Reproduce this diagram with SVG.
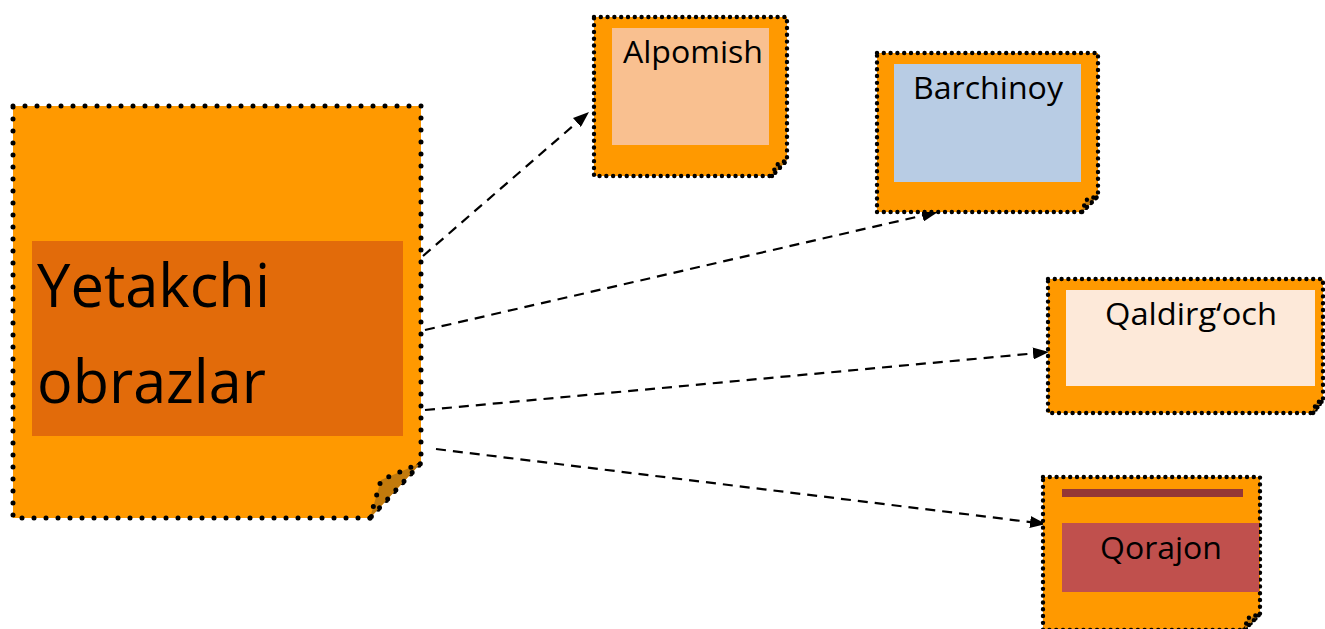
<svg xmlns="http://www.w3.org/2000/svg" width="1325" height="629" viewBox="0 0 1325 629">
<defs>
<style>
.note{fill:#FF9900;stroke:#000;stroke-width:5;stroke-linecap:round;stroke-dasharray:0 12}
.snote{fill:#FF9900;stroke:#000;stroke-width:4.4;stroke-linecap:round;stroke-dasharray:0 6.8}
.fold{fill:#C27A0C;stroke:#000;stroke-width:4.4;stroke-linecap:round;stroke-dasharray:0 6.8}
.conn{fill:none;stroke:#000;stroke-width:2.2;stroke-dasharray:10 7}
.lbl{font-family:"Open Sans","Noto Sans","Liberation Sans",sans-serif;fill:#000}
</style>
<marker id="ah" viewBox="0 0 16 12" refX="16" refY="6" markerWidth="16" markerHeight="12" markerUnits="userSpaceOnUse" orient="auto">
<path d="M0,0 L16,6 L0,12 z" fill="#000"/>
</marker>
</defs>
<rect width="1325" height="629" fill="#fff"/>

<g id="connectors">
<line class="conn" x1="423" y1="256" x2="589" y2="112" marker-end="url(#ah)"/>
<line class="conn" x1="425" y1="330" x2="938" y2="212" marker-end="url(#ah)"/>
<line class="conn" x1="425" y1="410" x2="1049" y2="352" marker-end="url(#ah)"/>
<line class="conn" x1="436" y1="449" x2="1046" y2="524" marker-end="url(#ah)"/>
</g>

<g id="node-yetakchi">
<path class="note" d="M13,106 H421 V463 L370,518 H13 Z"/>
<path class="fold" d="M370,518 L381,480 L421,463 Z" style="stroke-dasharray:0 12;stroke-width:5"/>
<rect x="32" y="241" width="371" height="195" fill="#E26B0A"/>
<text class="lbl" x="37" y="307" font-size="61" textLength="233" lengthAdjust="spacingAndGlyphs">Yetakchi</text>
<text class="lbl" x="37" y="403" font-size="61" textLength="229" lengthAdjust="spacingAndGlyphs">obrazlar</text>
</g>

<g id="node-alpomish">
<path class="snote" d="M594,17 H787 V160 L772,176 H594 Z"/>
<path class="fold" d="M772,176 L776,165 L787,160 Z"/>
<rect x="612" y="28" width="157" height="117" fill="#F9C090"/>
<text class="lbl" x="693" y="63" font-size="31" text-anchor="middle" textLength="140" lengthAdjust="spacingAndGlyphs">Alpomish</text>
</g>

<g id="node-barchinoy">
<path class="snote" d="M877,53 H1098 V196 L1082,212 H877 Z"/>
<path class="fold" d="M1082,212 L1086,200 L1098,196 Z"/>
<rect x="894" y="64" width="187" height="118" fill="#B8CCE4"/>
<text class="lbl" x="988" y="99" font-size="31" text-anchor="middle" textLength="150" lengthAdjust="spacingAndGlyphs">Barchinoy</text>
</g>

<g id="node-qaldirgoch">
<path class="snote" d="M1048,279 H1323 V400 L1313,413 H1048 Z"/>
<path class="fold" d="M1313,413 L1316,403 L1323,400 Z"/>
<rect x="1066" y="290" width="249" height="96" fill="#FDE9D9"/>
<text class="lbl" x="1191" y="325" font-size="31" text-anchor="middle" textLength="172" lengthAdjust="spacingAndGlyphs">Qaldirg‘och</text>
</g>

<g id="node-qorajon">
<path class="snote" d="M1043,477 H1260 V614 L1244,630 H1043 Z"/>
<path class="fold" d="M1244,630 L1248,618 L1260,614 Z"/>
<rect x="1062" y="489" width="181" height="8" fill="#953735"/>
<rect x="1062" y="523" width="197" height="69" fill="#C0504D"/>
<text class="lbl" x="1161" y="559" font-size="31" text-anchor="middle" textLength="122" lengthAdjust="spacingAndGlyphs">Qorajon</text>
</g>
</svg>
